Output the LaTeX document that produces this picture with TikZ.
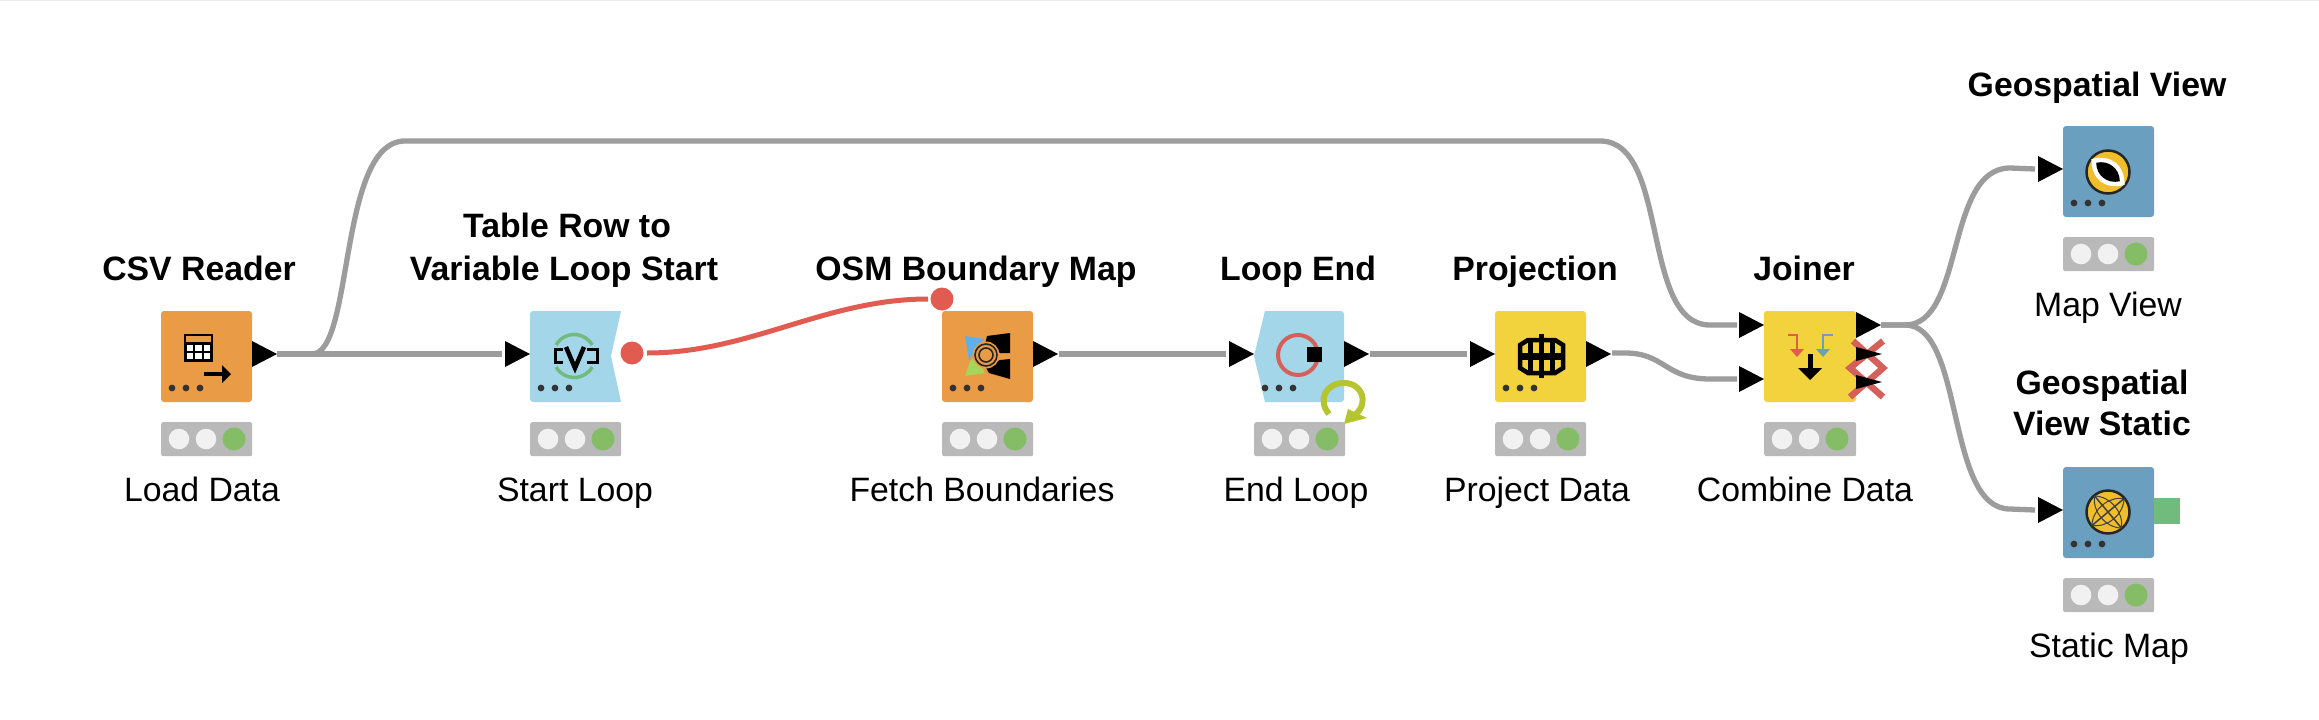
\documentclass[tikz,border=0pt]{standalone}
\usepackage{fontspec}
\setmainfont{Liberation Sans}
\usetikzlibrary{calc}
\definecolor{wirec}{HTML}{9C9C9C}
\definecolor{flowc}{HTML}{E25B50}
\definecolor{crossc}{HTML}{D5605A}
\definecolor{orangec}{HTML}{E99B46}
\definecolor{bluec}{HTML}{A4D6EA}
\definecolor{yellowc}{HTML}{F3D33D}
\definecolor{steelc}{HTML}{6A9FC0}
\definecolor{barc}{HTML}{B9B9B9}
\definecolor{lampc}{HTML}{F1F1F1}
\definecolor{greenc}{HTML}{84BD66}
\definecolor{portg}{HTML}{72BB7E}
\definecolor{goldc}{HTML}{F0BE2C}
\definecolor{loopc}{HTML}{B5C42F}
\definecolor{osmblue}{HTML}{5FB0E8}
\definecolor{osmgreen}{HTML}{A5D65A}
\tikzset{
  wire/.style={draw=wirec,line width=5.3pt},
  flowline/.style={draw=flowc,line width=5pt},
  flowdot/.style={circle,fill=flowc,inner sep=0pt,minimum size=23pt},
  nodebody/.style={rounded corners=3pt,inner sep=0pt,minimum height=91pt,anchor=north west,outer sep=0pt},
  titletext/.style={font=\bfseries\fontsize{33.8}{43}\selectfont,align=center,inner sep=0pt,anchor=base,text=black},
  labeltext/.style={font=\fontsize{33.8}{43}\selectfont,align=center,inner sep=0pt,anchor=base,text=black},
  barbody/.style={fill=barc,rounded corners=2pt,inner sep=0pt,minimum height=34pt,anchor=north west},
}
\newcommand{\outport}[2]{\fill[black] (#1,#2-13)--(#1+25,#2)--(#1,#2+13)--cycle;}
\newcommand{\inport}[2]{\fill[black] (#1-25,#2-13)--(#1,#2)--(#1-25,#2+13)--cycle;}
\newcommand{\threedots}[2]{\foreach \k in {0,14,28}{\fill[black!80] (#1+\k,#2) circle (3.4);}}
% status: name, left, top, width
\newcommand{\statusbar}[4]{%
  \node[barbody,minimum width=#4pt] (#1) at (#2,#3) {};
  \fill[lampc] (#2+18,#3+17) circle (10.3);
  \fill[lampc] (#2+45,#3+17) circle (10.3);
  \fill[greenc] (#2+73,#3+17) circle (11.5);
}
\begin{document}
\begin{tikzpicture}[x=1pt,y=-1pt]
\useasboundingbox (0,0) rectangle (2319,720);
\fill[white] (0,0) rectangle (2319,720);
\fill[black!8] (0,0) rectangle (2319,1);

% ---------- bodies
\node[nodebody,fill=orangec,minimum width=91pt] (load) at (161,311) {};
\fill[bluec] (621,311) [rounded corners=3pt] -- (530,311) -- (530,402) -- (580,402) [sharp corners] -- (621,402) -- (611,356) -- cycle;
\coordinate (startc) at (575,356);
\node[nodebody,fill=orangec,minimum width=91pt] (osm) at (942,311) {};
\fill[bluec] (1265,311) [rounded corners=3pt] -- (1344,311) -- (1344,402) -- (1300,402) [sharp corners] -- (1265,402) -- (1254,356) -- cycle;
\coordinate (endc) at (1298,355);
\node[nodebody,fill=yellowc,minimum width=91pt] (proj) at (1495,311) {};
\node[nodebody,fill=yellowc,minimum width=92pt] (join) at (1764,311) {};
\node[nodebody,fill=steelc,minimum width=91pt] (geo) at (2063,126) {};
\node[nodebody,fill=steelc,minimum width=91pt] (geos) at (2063,467) {};

% ---------- connector ends
\coordinate (load-o) at (277,354);
\coordinate (start-i) at (502,354);
\coordinate (osm-o) at (1059,354);
\coordinate (end-i) at (1226,354);
\coordinate (end-o) at (1370,354);
\coordinate (proj-i) at (1467,354);
\coordinate (proj-o) at (1612,353);
\coordinate (join-a) at (1737,325);
\coordinate (join-b) at (1737,379);
\coordinate (join-o) at (1881,325);
\coordinate (geo-i) at (2035,169);
\coordinate (geos-i) at (2035,510);
\coordinate (start-f) at (632,353);
\coordinate (osm-f) at (942,299);

% ---------- wires
\draw[wire] (load-o) -- (start-i);
\draw[wire] (load-o) -- (312,354) .. controls (354,354) and (338,141) .. (405,141) -- (1600,141) .. controls (1670,141) and (1640,325) .. (1710,325) -- (join-a);
\draw[wire] (osm-o) -- (end-i);
\draw[wire] (end-o) -- (proj-i);
\draw[wire] (proj-o) -- (1625,353) .. controls (1665,353) and (1665,379) .. (1710,379) -- (join-b);
\draw[wire] (join-o) -- (1905,325) .. controls (1965,325) and (1945,168) .. (2010,168) -- (geo-i);
\draw[wire] (join-o) -- (1905,325) .. controls (1965,325) and (1945,509) .. (2010,509) -- (geos-i);
\draw[flowline] ($(start-f)+(15,0)$) .. controls (750,353) and (825,299) .. ($(osm-f)+(-14,0)$);

% ---------- ports
\outport{252}{354} \inport{530}{354}
\outport{1033}{354} \inport{1254}{354}
\outport{1344}{354} \inport{1495}{354}
\outport{1586}{354}
\inport{1764}{325} \inport{1764}{379}
\outport{1856}{325}
\inport{2063}{169} \inport{2063}{510}
\node[flowdot] (sf) at (start-f) {};
\node[flowdot] (of) at (osm-f) {};
\fill[portg] (2154,498) rectangle (2180,524);

% ---------- joiner inactive outputs
\draw[crossc,line width=6.5pt] (1883,341)--(1850,368)--(1883,397);
\draw[crossc,line width=6.5pt] (1853,341)--(1883,368)--(1850,397);
\fill[black] (1856,347)--(1882,354)--(1856,361)--cycle;
\fill[black] (1856,375)--(1882,382)--(1856,389)--cycle;

% ---------- three dots
\threedots{172}{388} \threedots{541}{388} \threedots{953}{388} \threedots{1265}{388}
\threedots{1506}{388} \threedots{2074}{203} \threedots{2074}{544}

% ---------- icon: CSV reader
\fill[orangec] (184,334) rectangle (213,362);
\fill[black] (184,342) rectangle (213,362);
\foreach \i in {0,1,2}{\foreach \j in {0,1}{\fill[white] (186.5+8.6*\i,344.5+8.2*\j) rectangle ++(6.5,6);}}
\draw[black,line width=2.2pt] (185,335) rectangle (212,361);
\draw[black,line width=4.5pt] (204,374) -- (226,374);
\fill[black] (222,365) -- (231,374) -- (222,383) -- cycle;

% ---------- icon: table row to variable loop start
\draw[portg,line width=3.5pt] (556,345) arc[start angle=-150,end angle=-30,radius=21];
\draw[portg,line width=3.5pt] (556,367) arc[start angle=150,end angle=30,radius=21];
\draw[black,line width=3pt] (563,349) -- (555,349) -- (555,362) -- (563,362);
\draw[black,line width=3pt] (587,349) -- (597,349) -- (597,362) -- (587,362);
\draw[black,line width=4.5pt] (566,347) -- (575,368) -- (584,347);

% ---------- icon: OSM
\fill[black] (1010,333) -- (987,336) -- (985,345) -- (1000,353) -- (1010,353) -- cycle;
\fill[black] (1010,379) -- (989,373) -- (985,366) -- (1000,360) -- (1010,359) -- cycle;
\fill[osmblue] (965,336) -- (984,339) -- (975,351) -- (969,360) -- cycle;
\fill[osmgreen] (970.5,360) -- (977,358) -- (985,373) -- (965,376) -- cycle;
\fill[orangec] (986,355) circle (13.5);
\draw[black!85,line width=1.6pt] (986,355) circle (11);
\draw[black!85,line width=1.6pt] (986,355) circle (7);

% ---------- icon: loop end
\draw[crossc,line width=4pt] (endc) circle (20);
\fill[black] (1307,347) rectangle (1322,362);

% ---------- icon: projection
\draw[black,line width=4.5pt] (1528,340) -- (1555,340) -- (1563,345) -- (1563,368) -- (1555,373) -- (1528,373) -- (1520,368) -- (1520,345) -- cycle;
\draw[black,line width=5pt] (1530,340) -- (1530,373);
\draw[black,line width=5pt] (1552,340) -- (1552,373);
\draw[black,line width=5pt] (1541,334) -- (1541,378);
\draw[black,line width=7pt] (1519,356) -- (1563,356);

% ---------- icon: joiner
\draw[flowc,line width=2.5pt] (1788,335) -- (1797,335) -- (1797,350);
\fill[flowc] (1790,349) -- (1804,349) -- (1797,357) -- cycle;
\draw[steelc,line width=2.5pt] (1833,335) -- (1823,335) -- (1823,350);
\fill[steelc] (1816,349) -- (1830,349) -- (1823,357) -- cycle;
\draw[black,line width=5pt] (1810,354) -- (1810,372);
\fill[black] (1798,368) -- (1822,368) -- (1810,380) -- cycle;

% ---------- icon: geospatial view
\fill[goldc,draw=black!85,line width=2.5pt] (2108,172) circle (21.5);
\begin{scope}[shift={(2108,172)},rotate=-38]
\fill[white] (-21,0) .. controls (-9,-16) and (9,-16) .. (21,0) .. controls (9,16) and (-9,16) .. (-21,0) -- cycle;
\fill[black] (-15,0) .. controls (-7,-10) and (7,-10) .. (15,0) .. controls (7,10) and (-7,10) .. (-15,0) -- cycle;
\end{scope}

% ---------- icon: geospatial view static
\fill[goldc,draw=black!85,line width=2.5pt] (2108,512) circle (21.5);
\begin{scope}[shift={(2108,512)},rotate=40]
\draw[black!75,line width=1.5pt] (-21,0) -- (21,0);
\draw[black!75,line width=1.5pt] (0,-21) -- (0,21);
\draw[black!75,line width=1pt] (-21,0) .. controls (-10,-12) and (10,-12) .. (21,0);
\draw[black!75,line width=1pt] (-21,0) .. controls (-10,12) and (10,12) .. (21,0);
\draw[black!75,line width=1pt] (0,-21) .. controls (-12,-10) and (-12,10) .. (0,21);
\draw[black!75,line width=1pt] (0,-21) .. controls (12,-10) and (12,10) .. (0,21);
\end{scope}

% ---------- status bars
\statusbar{s1}{161}{422}{91}
\statusbar{s2}{530}{422}{91}
\statusbar{s3}{942}{422}{91}
\statusbar{s4}{1254}{422}{91}
\statusbar{s5}{1495}{422}{91}
\statusbar{s6}{1764}{422}{92}
\statusbar{s7}{2063}{237}{91}
\statusbar{s8}{2063}{578}{91}

% ---------- loop arrow over the status bar
\draw[loopc,line width=6pt] (1329,414) .. controls (1317,400) and (1326,383) .. (1344,383) .. controls (1362,383) and (1369,402) .. (1356,414);
\fill[loopc] (1344,424) -- (1348,409) -- (1367,418) -- cycle;

% ---------- texts
\node[titletext] (t1) at (199,280) {CSV Reader};
\node[titletext] (t2a) at (567,237) {Table Row to};
\node[titletext] (t2b) at (564,280) {Variable Loop Start};
\node[titletext] (t3) at (976,280) {OSM Boundary Map};
\node[titletext] (t4) at (1298,280) {Loop End};
\node[titletext] (t5) at (1535,280) {Projection};
\node[titletext] (t6) at (1804,280) {Joiner};
\node[titletext] (t7) at (2097,96) {Geospatial View};
\node[titletext] (t8a) at (2102,394) {Geospatial};
\node[titletext] (t8b) at (2102,435) {View Static};
\node[labeltext] (l1) at (202,501) {Load Data};
\node[labeltext] (l2) at (575,501) {Start Loop};
\node[labeltext] (l3) at (982,501) {Fetch Boundaries};
\node[labeltext] (l4) at (1296,501) {End Loop};
\node[labeltext] (l5) at (1537,501) {Project Data};
\node[labeltext] (l6) at (1805,501) {Combine Data};
\node[labeltext] (l7) at (2108,316) {Map View};
\node[labeltext] (l8) at (2109,657) {Static Map};
\end{tikzpicture}
\end{document}
